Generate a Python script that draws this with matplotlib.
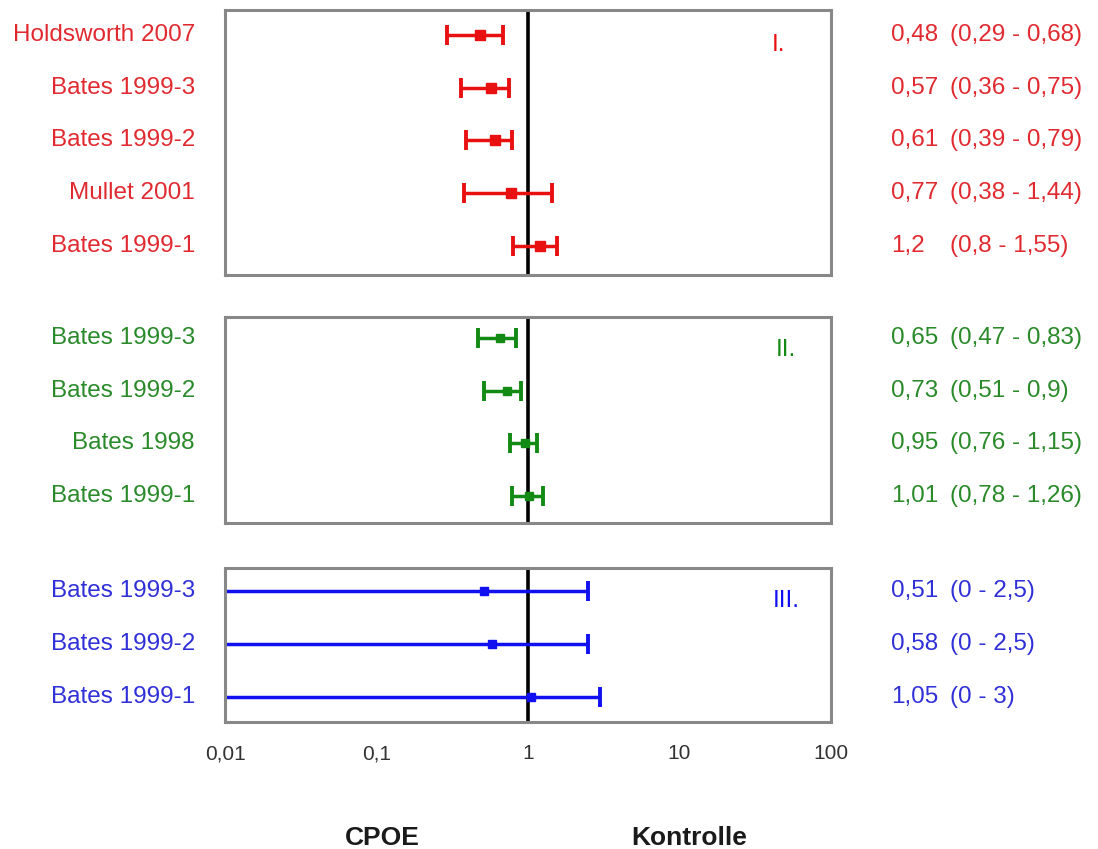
import matplotlib
matplotlib.use("Agg")
import matplotlib.pyplot as plt
import matplotlib.transforms as mtransforms

plt.rcParams['font.family'] = ['Liberation Sans', 'DejaVu Sans']

# --- data -------------------------------------------------------------
studies_1 = ["Holdsworth 2007", "Bates 1999-3", "Bates 1999-2", "Mullet 2001", "Bates 1999-1"]
est_1 = [0.48, 0.57, 0.61, 0.77, 1.2]
low_1 = [0.29, 0.36, 0.39, 0.38, 0.8]
high_1 = [0.68, 0.75, 0.79, 1.44, 1.55]
val_txt_1 = ["0,48", "0,57", "0,61", "0,77", "1,2"]
ci_txt_1 = ["(0,29 - 0,68)", "(0,36 - 0,75)", "(0,39 - 0,79)", "(0,38 - 1,44)", "(0,8 - 1,55)"]

studies_2 = ["Bates 1999-3", "Bates 1999-2", "Bates 1998", "Bates 1999-1"]
est_2 = [0.65, 0.73, 0.95, 1.01]
low_2 = [0.47, 0.51, 0.76, 0.78]
high_2 = [0.83, 0.9, 1.15, 1.26]
val_txt_2 = ["0,65", "0,73", "0,95", "1,01"]
ci_txt_2 = ["(0,47 - 0,83)", "(0,51 - 0,9)", "(0,76 - 1,15)", "(0,78 - 1,26)"]

studies_3 = ["Bates 1999-3", "Bates 1999-2", "Bates 1999-1"]
est_3 = [0.51, 0.58, 1.05]
low_3 = [0, 0, 0]
high_3 = [2.5, 2.5, 3]
val_txt_3 = ["0,51", "0,58", "1,05"]
ci_txt_3 = ["(0 - 2,5)", "(0 - 2,5)", "(0 - 3)"]

xticks = [0.01, 0.1, 1, 10, 100]
xticklabels = ["0,01", "0,1", "1", "10", "100"]

XMIN, XMAX = 0.01, 100
W, H = 1098, 849
FS = 17.5

fig = plt.figure(figsize=(W / 100, H / 100), dpi=100)


def px_axes(top, bottom, left=225, right=831):
    return fig.add_axes([left / W, 1 - bottom / H, (right - left) / W, (bottom - top) / H])


def draw_panel(ax, names, est, low, high, vals, cis, color, txtcolor, roman,
               roman_xy, ylim, msize):
    n = len(names)
    ax.set_xscale("log")
    ax.set_xlim(XMIN, XMAX)
    ax.set_ylim(*ylim)
    ax.axvline(1, color="black", lw=2.6, zorder=1)
    for i in range(n):
        # a lower bound of 0 runs off the log axis: no cap on that side
        lo = max(low[i], XMIN)
        ax.plot([lo, high[i]], [i, i], color=color, lw=2.5, solid_capstyle="butt", zorder=2)
        caps = [high[i]] if low[i] < XMIN else [low[i], high[i]]
        ax.plot(caps, [i] * len(caps), ls="none", marker="|", ms=14, mew=2.8,
                color=color, zorder=2)
        ax.plot(est[i], i, marker="s", ms=msize, color=color, mec=color, zorder=3)
    for s in ax.spines.values():
        s.set_color("#888888")
        s.set_linewidth(2.2)
    ax.set_yticks([])
    ax.xaxis.set_minor_locator(matplotlib.ticker.NullLocator())
    ax.set_xticks([])

    tr = mtransforms.blended_transform_factory(fig.transFigure, ax.transData)
    for i in range(n):
        ax.text(195 / W, i, names[i], transform=tr, ha="right", va="center",
                fontsize=FS, color=txtcolor)
        ax.text(891 / W, i, vals[i], transform=tr, ha="left", va="center",
                fontsize=FS, color=txtcolor)
        ax.text(950 / W, i, cis[i], transform=tr, ha="left", va="center",
                fontsize=FS, color=txtcolor)
    fig.text(roman_xy[0] / W, 1 - roman_xy[1] / H, roman, ha="left", va="center",
             fontsize=FS, color=color)


ax1 = px_axes(10, 275)
draw_panel(ax1, studies_1, est_1, low_1, high_1, val_txt_1, ci_txt_1,
           "#e81010", "#e02a30", "I.", (772, 45), (4.55, -0.47), 7)

ax2 = px_axes(317, 523)
draw_panel(ax2, studies_2, est_2, low_2, high_2, val_txt_2, ci_txt_2,
           "#138a13", "#2a8a2a", "II.", (776, 350), (3.51, -0.40), 6)

ax3 = px_axes(568, 722)
draw_panel(ax3, studies_3, est_3, low_3, high_3, val_txt_3, ci_txt_3,
           "#1010f0", "#3030d8", "III.", (773, 601), (2.47, -0.44), 6)

ax3.set_xticks(xticks)
ax3.set_xticklabels(xticklabels, fontsize=15, color="#333333")
ax3.tick_params(axis="x", length=0, pad=16)

fig.text(382 / W, 1 - 838 / H, "CPOE", ha="center", va="center",
         fontsize=19, fontweight="bold", color="#1a1a1a")
fig.text(689 / W, 1 - 838 / H, "Kontrolle", ha="center", va="center",
         fontsize=19, fontweight="bold", color="#1a1a1a")

fig.savefig("out.png", dpi=100)
